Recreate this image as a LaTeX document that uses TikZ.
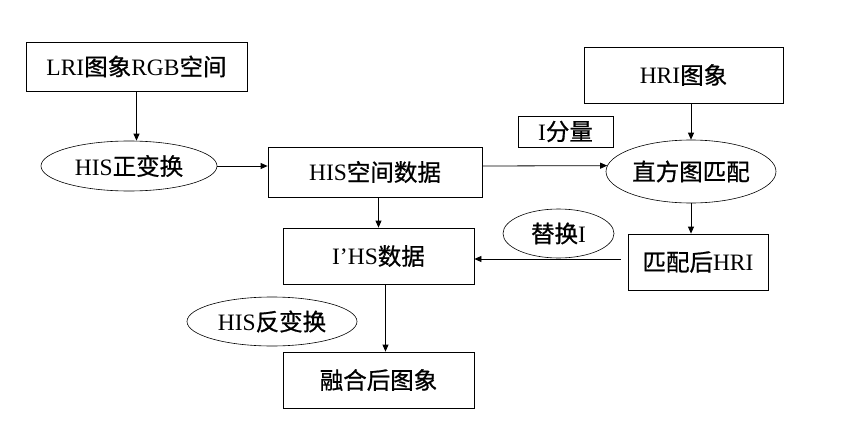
\documentclass[tikz,border=0pt]{standalone}
\usepackage{fontspec}
\setmainfont{Liberation Serif}
\newfontfamily\cjk[FakeBold=0.8]{Noto Sans CJK SC}
\usetikzlibrary{positioning}
\usetikzlibrary{calc}
\usetikzlibrary{arrows.meta}
\usetikzlibrary{shapes.geometric}
\newcommand{\zh}[1]{{\cjk #1}}

\begin{document}
\begin{tikzpicture}[x=1pt, y=-1pt,
    font=\fontsize{23.5}{27}\selectfont,
    box/.style={draw, line width=0.8pt, inner sep=0pt},
    oval/.style={draw, ellipse, line width=0.6pt, inner sep=0pt},
    arr/.style={-{Triangle[length=7pt,width=6pt]}, line width=0.8pt}]
    \useasboundingbox (0,0) rectangle (847,431);

    \node[box, minimum width=221pt, minimum height=49pt] (lri) at (136.5,66.5) {LRI\zh{图象}RGB\zh{空间}};
    \node[oval, minimum width=176pt, minimum height=50pt] (hisfwd) at (129,166) {HIS\zh{正变换}};
    \node[box, minimum width=214pt, minimum height=50pt] (hisdata) at (375,172) {HIS\zh{空间数据}};
    \node[box, minimum width=95pt, minimum height=31pt] (icomp) at (565.5,131.5) {I\zh{分量}};
    \node[box, minimum width=199pt, minimum height=56pt] (hri) at (683.5,75) {HRI\zh{图象}};
    \node[oval, minimum width=170pt, minimum height=63pt] (match) at (691,171.5) {\zh{直方图匹配}};
    \node[oval, minimum width=111pt, minimum height=49pt] (repl) at (558.5,233.5) {\zh{替换}I};
    \node[box, minimum width=140pt, minimum height=56pt] (hri2) at (698,262) {\zh{匹配后}HRI};
    \node[box, minimum width=191pt, minimum height=56pt] (ihs) at (378.5,256) {I'HS\zh{数据}};
    \node[oval, minimum width=170pt, minimum height=49pt] (hisinv) at (272,321.5) {HIS\zh{反变换}};
    \node[box, minimum width=191pt, minimum height=56pt] (fused) at (378.5,380) {\zh{融合后图象}};

    % connectors
    \draw[arr] (lri.south) -- (lri.south |- hisfwd.north);
    \draw[arr] (hisfwd.east) -- (hisfwd.east -| hisdata.west);
    \draw[arr] (hisdata.east |- hisfwd.east) -- (match.176);
    \draw[arr] (match.north |- hri.south) -- (match.north);
    \draw[arr] (match.south) -- (match.south |- hri2.north);
    \coordinate (gap) at ([xshift=-7pt,yshift=3pt]hri2.west);
    \draw[arr] (gap) -- (gap -| ihs.east);
    \draw[arr] (hisdata.south -| ihs.north) -- (ihs.north);
    \draw[arr] ([xshift=7pt]ihs.south) -- ([xshift=7pt]fused.north);
\end{tikzpicture}
\end{document}
